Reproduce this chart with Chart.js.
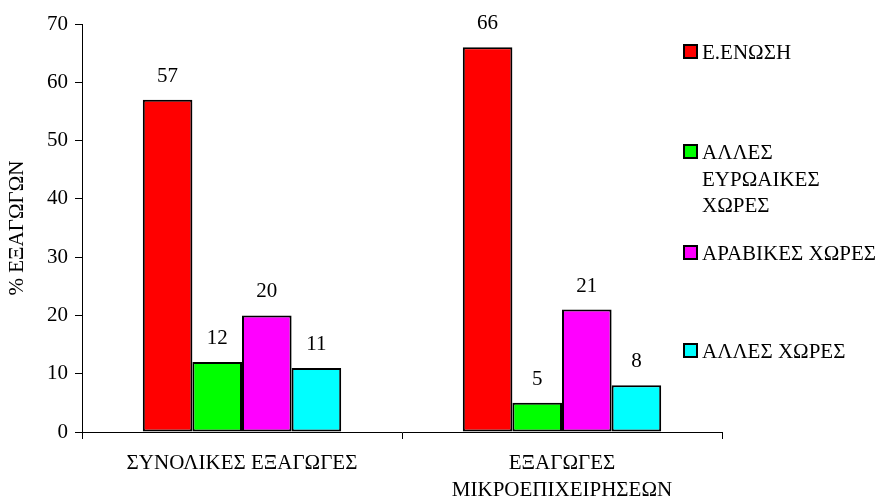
<!DOCTYPE html>
<html><head><meta charset="utf-8">
<script src="https://cdn.jsdelivr.net/npm/chart.js@4"></script>
<style>html,body{margin:0;padding:0;background:#fff}</style>
</head><body><canvas id="c" width="879" height="497"></canvas>
<script>
const categories = [['ΣΥΝΟΛΙΚΕΣ ΕΞΑΓΩΓΕΣ'], ['ΕΞΑΓΩΓΕΣ', 'ΜΙΚΡΟΕΠΙΧΕΙΡΗΣΕΩΝ']];
const seriesNames = ['Ε.ΕΝΩΣΗ', 'ΑΛΛΕΣ ΕΥΡΩΑΙΚΕΣ ΧΩΡΕΣ', 'ΑΡΑΒΙΚΕΣ ΧΩΡΕΣ', 'ΑΛΛΕΣ ΧΩΡΕΣ'];
const legendLines = [['Ε.ΕΝΩΣΗ'], ['ΑΛΛΕΣ', 'ΕΥΡΩΑΙΚΕΣ', 'ΧΩΡΕΣ'], ['ΑΡΑΒΙΚΕΣ ΧΩΡΕΣ'], ['ΑΛΛΕΣ ΧΩΡΕΣ']];
const euValues = [57, 66];
const otherEuropeValues = [12, 5];
const arabValues = [20, 21];
const otherValues = [11, 8];
const yTicks = [0, 10, 20, 30, 40, 50, 60, 70];
const yTitle = '% ΕΞΑΓΩΓΩΝ';
const colors = ['#FF0000', '#00FF00', '#FF00FF', '#00FFFF'];

const FONT = "'Liberation Serif', 'Times New Roman', serif";
const FS = 21;
const values = [euValues, otherEuropeValues, arabValues, otherValues];

const valueLabels = {
  id: 'valueLabels',
  afterDatasetsDraw(chart) {
    const ctx = chart.ctx;
    ctx.save();
    ctx.font = FS + 'px ' + FONT;
    ctx.fillStyle = '#000';
    ctx.textAlign = 'center';
    ctx.textBaseline = 'alphabetic';
    chart.data.datasets.forEach((ds, i) => {
      chart.getDatasetMeta(i).data.forEach((bar, j) => {
        ctx.fillText(String(ds.data[j]), bar.x, bar.y - 18);
      });
    });
    ctx.restore();
  }
};

const sideLegend = {
  id: 'sideLegend',
  afterDraw(chart) {
    const ctx = chart.ctx;
    const firstBaselines = [59, 159, 260, 358];
    const lineH = 26.5;
    ctx.save();
    ctx.font = FS + 'px ' + FONT;
    ctx.textBaseline = 'alphabetic';
    ctx.textAlign = 'left';
    chart.data.datasets.forEach((ds, i) => {
      const b = firstBaselines[i];
      ctx.fillStyle = ds.backgroundColor;
      ctx.fillRect(684, b - 14, 13, 13);
      ctx.strokeStyle = '#000';
      ctx.lineWidth = 2;
      ctx.strokeRect(684, b - 14, 13, 13);
      ctx.fillStyle = '#000';
      legendLines[i].forEach((t, k) => ctx.fillText(t, 702, b + k * lineH));
    });
    ctx.restore();
  }
};

new Chart(document.getElementById('c'), {
  type: 'bar',
  data: {
    labels: categories,
    datasets: seriesNames.map((n, i) => ({
      label: n,
      data: values[i],
      backgroundColor: colors[i],
      borderColor: '#000',
      borderWidth: 2,
      borderSkipped: false,
      barPercentage: 1,
      categoryPercentage: 0.62
    }))
  },
  options: {
    responsive: false,
    animation: false,
    devicePixelRatio: 1,
    layout: { padding: { left: 5, right: 157, top: 24, bottom: 0 } },
    plugins: { legend: { display: false }, tooltip: { enabled: false } },
    scales: {
      x: {
        grid: { display: true, drawOnChartArea: false, offset: true, tickLength: 7, color: '#000', lineWidth: 1 },
        border: { color: '#000', width: 1 },
        ticks: { color: '#000', font: { family: FONT, size: FS, lineHeight: 1.28 }, padding: 11, maxRotation: 0, autoSkip: false },
        afterFit(s) { s.height = 65; }
      },
      y: {
        min: 0, max: 70,
        afterBuildTicks(s) { s.ticks = yTicks.map(v => ({ value: v })); },
        grid: { display: true, drawOnChartArea: false, tickLength: 7, color: '#000', lineWidth: 1 },
        border: { color: '#000', width: 1 },
        ticks: { color: '#000', font: { family: FONT, size: FS }, padding: 7 },
        title: { display: true, text: yTitle, color: '#000', font: { family: FONT, size: FS }, padding: { top: 0, bottom: 0 } },
        afterFit(s) { s.width = 77; }
      }
    }
  },
  plugins: [valueLabels, sideLegend]
});
</script></body></html>
